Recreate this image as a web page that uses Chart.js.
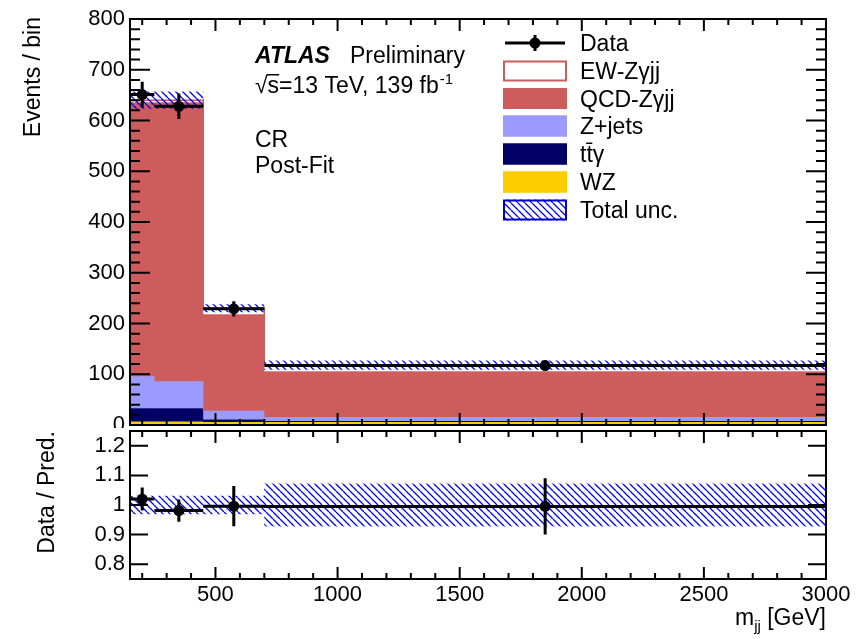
<!DOCTYPE html>
<html>
<head>
<meta charset="utf-8">
<script src="https://cdn.jsdelivr.net/npm/chart.js@4.4.1/dist/chart.umd.min.js"></script>
<style>
  body { margin: 0; background: #fff; }
  #wrap { position: relative; width: 856px; height: 639px; }
  #mainChart { position: absolute; left: 0; top: 0; }
  #ratioChart { position: absolute; left: 0; top: 428px; }
</style>
</head>
<body>
<div id="wrap">
  <canvas id="mainChart" width="856" height="428"></canvas>
  <canvas id="ratioChart" width="856" height="211"></canvas>
</div>
<script>
// bins in m_jj [GeV]
const binEdges = [150, 250, 450, 700, 3000];
const binCenters = [200, 350, 575, 1850];

// events per bin
const dataVals = [651, 628, 229, 117];
const dataErr = [25.5, 25, 15, 10.8];
const wzVals = [7, 7, 6, 6];
const ttgVals = [26, 26, 5, 2];
const zjetsVals = [63, 53, 17, 8];
const qcdVals = [540, 550, 190, 90];
const ewVals = [4, 4, 12, 12];
const uncVals = [17, 17, 8, 9];

// data / prediction
const ratioVals = [1.02, 0.981, 0.996, 0.995];
const ratioErr = [0.039, 0.038, 0.068, 0.095];
const ratioUnc = [0.031, 0.031, 0.031, 0.073];

// tick labels
const mainYTicks = [0, 100, 200, 300, 400, 500, 600, 700, 800];
const ratioYTicks = [0.8, 0.9, 1, 1.1, 1.2];
const xTicks = [500, 1000, 1500, 2000, 2500, 3000];

const colQCD = "#cd5c5c";
const colZjets = "#9b9bff";
const colTTG = "#000066";
const colWZ = "#ffcc00";
const FONT = "'Liberation Sans', Arial, sans-serif";

Chart.defaults.font.family = FONT;
Chart.defaults.color = "#000";
Chart.defaults.animation = false;

function stepPoints(vals) {
  const pts = [];
  for (let i = 0; i < vals.length; i++) pts.push({ x: binEdges[i], y: vals[i] });
  pts.push({ x: binEdges[binEdges.length - 1], y: vals[vals.length - 1] });
  return pts;
}
function addArr(a, b) { return a.map((v, i) => v + b[i]); }

function makeHatch() {
  const w = 7, h = 7;
  const c = document.createElement("canvas");
  c.width = w; c.height = h;
  const g = c.getContext("2d");
  g.strokeStyle = "#0000ff";
  g.lineWidth = 1.3;
  g.beginPath();
  for (let k = -1; k <= 1; k++) {
    g.moveTo(k * w, 0);
    g.lineTo(k * w + w, h);
  }
  g.stroke();
  return g.createPattern(c, "repeat");
}
const hatch = makeHatch();

const cum1 = wzVals.slice();
const cum2 = addArr(cum1, ttgVals);
const cum3 = addArr(cum2, zjetsVals);
const cum4 = addArr(cum3, qcdVals);
const cum5 = addArr(cum4, ewVals);
const uncHi = cum5.map((v, i) => v + uncVals[i]);
const uncLo = cum5.map((v, i) => v - uncVals[i]);

function minorTicks(lo, hi, step, majors) {
  const out = [];
  for (let v = lo; v <= hi + 1e-9; v += step) {
    const r = Math.round(v * 1000) / 1000;
    if (!majors.some(m => Math.abs(m - r) < 1e-6)) out.push(r);
  }
  return out;
}

// frame with inward ticks on all four sides
const frameTicks = {
  id: "frameTicks",
  afterDraw(chart, args, o) {
    const { ctx, chartArea: a } = chart;
    const x = chart.scales.x, y = chart.scales.y;
    ctx.save();
    ctx.strokeStyle = "#000";
    ctx.lineWidth = 2;
    ctx.beginPath();
    const xt = (v, len) => {
      const p = x.getPixelForValue(v);
      ctx.moveTo(p, a.bottom); ctx.lineTo(p, a.bottom - len);
      ctx.moveTo(p, a.top); ctx.lineTo(p, a.top + len);
    };
    const yt = (v, len) => {
      const p = y.getPixelForValue(v);
      ctx.moveTo(a.left, p); ctx.lineTo(a.left + len, p);
      ctx.moveTo(a.right, p); ctx.lineTo(a.right - len, p);
    };
    o.xMajor.forEach(v => xt(v, o.xLen[0]));
    o.xMinor.forEach(v => xt(v, o.xLen[1]));
    o.yMajor.forEach(v => yt(v, o.yLen[0]));
    o.yMinor.forEach(v => yt(v, o.yLen[1]));
    ctx.stroke();
    ctx.strokeRect(a.left, a.top, a.right - a.left, a.bottom - a.top);
    ctx.restore();
  }
};

// data error bars (x: bin width, y: stat error)
const errBars = {
  id: "errBars",
  afterDatasetsDraw(chart, args, o) {
    const ctx = chart.ctx;
    const x = chart.scales.x, y = chart.scales.y;
    const a = chart.chartArea;
    ctx.save();
    ctx.beginPath();
    ctx.rect(a.left, a.top, a.right - a.left, a.bottom - a.top);
    ctx.clip();
    ctx.strokeStyle = "#000";
    ctx.lineWidth = 3;
    ctx.beginPath();
    for (let i = 0; i < o.vals.length; i++) {
      const py = y.getPixelForValue(o.vals[i]);
      const px = x.getPixelForValue(binCenters[i]);
      ctx.moveTo(x.getPixelForValue(binEdges[i]), py);
      ctx.lineTo(x.getPixelForValue(binEdges[i + 1]), py);
      ctx.moveTo(px, y.getPixelForValue(o.vals[i] - o.errs[i]));
      ctx.lineTo(px, y.getPixelForValue(o.vals[i] + o.errs[i]));
    }
    ctx.stroke();
    ctx.fillStyle = "#000";
    for (let i = 0; i < o.vals.length; i++) {
      ctx.beginPath();
      ctx.arc(x.getPixelForValue(binCenters[i]), y.getPixelForValue(o.vals[i]), 5.5, 0, Math.PI * 2);
      ctx.fill();
    }
    ctx.restore();
  }
};

const mainText = {
  id: "mainText",
  afterDraw(chart) {
    const ctx = chart.ctx;
    ctx.save();
    ctx.fillStyle = "#000";
    ctx.textBaseline = "alphabetic";
    ctx.textAlign = "left";
    ctx.font = "italic bold 23px " + FONT;
    ctx.fillText("ATLAS", 255, 63);
    ctx.font = "23px " + FONT;
    ctx.fillText("Preliminary", 350, 63);
    const s2 = "\u221As=13 TeV, 139 fb";
    ctx.fillText(s2, 255, 93);
    const wRad = ctx.measureText("\u221A").width;
    const wS = ctx.measureText("s").width;
    const w2 = ctx.measureText(s2).width;
    ctx.fillRect(255 + wRad - 1, 93 - 19, wS + 1, 1.5);
    ctx.font = "15px " + FONT;
    ctx.fillText("-1", 255 + w2 + 1, 84);
    ctx.font = "23px " + FONT;
    ctx.fillText("CR", 255, 147);
    ctx.fillText("Post-Fit", 255, 173);

    // legend
    const bx = 503, bw = 64, bh = 21, tx = 580;
    const rows = [43, 71, 98.5, 126, 154, 182, 210];
    const labels = ["Data", "EW-Z\u03B3jj", "QCD-Z\u03B3jj", "Z+jets", "tt\u0304\u03B3", "WZ", "Total unc."];
    // data marker
    ctx.strokeStyle = "#000";
    ctx.lineWidth = 3;
    ctx.beginPath();
    ctx.moveTo(bx + 2, rows[0]); ctx.lineTo(bx + bw - 2, rows[0]);
    ctx.moveTo(bx + bw / 2, rows[0] - 8); ctx.lineTo(bx + bw / 2, rows[0] + 8);
    ctx.stroke();
    ctx.beginPath();
    ctx.arc(bx + bw / 2, rows[0], 5.5, 0, Math.PI * 2);
    ctx.fill();
    const box = (r, fill, stroke) => {
      const top = rows[r] - bh / 2;
      ctx.fillStyle = fill;
      ctx.fillRect(bx, top, bw, bh);
      ctx.strokeStyle = stroke;
      ctx.lineWidth = 2;
      ctx.strokeRect(bx + 1, top + 1, bw - 2, bh - 2);
    };
    box(1, "#fff", colQCD);
    box(2, colQCD, colQCD);
    box(3, colZjets, colZjets);
    box(4, colTTG, colTTG);
    box(5, colWZ, colWZ);
    box(6, hatch, "#0000cc");
    ctx.fillStyle = "#000";
    ctx.font = "23px " + FONT;
    labels.forEach((t, i) => ctx.fillText(t, tx, rows[i] + 8));

    // y title
    ctx.translate(40, 17);
    ctx.rotate(-Math.PI / 2);
    ctx.textAlign = "right";
    ctx.fillText("Events / bin", 0, 0);
    ctx.restore();
  }
};

const ratioText = {
  id: "ratioText",
  afterDraw(chart) {
    const ctx = chart.ctx;
    ctx.save();
    ctx.fillStyle = "#000";
    ctx.textBaseline = "alphabetic";
    ctx.textAlign = "left";
    ctx.font = "23px " + FONT;
    const wm = ctx.measureText("m").width;
    const wr = ctx.measureText(" [GeV]").width;
    ctx.font = "15px " + FONT;
    const wj = ctx.measureText("jj").width;
    const x0 = 826 - (wm + wj + wr);
    const base = 197;
    ctx.font = "23px " + FONT;
    ctx.fillText("m", x0, base);
    ctx.fillText(" [GeV]", x0 + wm + wj, base);
    ctx.font = "15px " + FONT;
    ctx.fillText("jj", x0 + wm, base + 6);

    ctx.font = "23px " + FONT;
    ctx.translate(54, 3);
    ctx.rotate(-Math.PI / 2);
    ctx.textAlign = "right";
    ctx.fillText("Data / Pred.", 0, 0);
    ctx.restore();
  }
};

function stackDs(label, vals, color, fill, order) {
  return {
    label: label, data: stepPoints(vals), stepped: true, fill: fill,
    backgroundColor: color, borderColor: color, borderWidth: 1,
    pointRadius: 0, order: order
  };
}

const mainConfig = {
  type: "line",
  data: {
    datasets: [
      stackDs("WZ", cum1, colWZ, "origin", 7),
      stackDs("ttgamma", cum2, colTTG, "-1", 6),
      stackDs("Z+jets", cum3, colZjets, "-1", 5),
      stackDs("QCD-Zgjj", cum4, colQCD, "-1", 4),
      { label: "EW-Zgjj", data: stepPoints(cum5), stepped: true, fill: "-1",
        backgroundColor: "#fff", borderColor: colQCD, borderWidth: 1.5, pointRadius: 0, order: 3 },
      { label: "uncHi", data: stepPoints(uncHi), stepped: true, fill: false,
        borderColor: "rgba(0,0,0,0)", borderWidth: 0.01, pointRadius: 0, order: 1 },
      { label: "uncLo", data: stepPoints(uncLo), stepped: true, fill: "-1",
        backgroundColor: hatch, borderColor: "rgba(0,0,0,0)", borderWidth: 0.01, pointRadius: 0, order: 1 },
    ],
  },
  options: {
    responsive: false,
    events: [],
    layout: { padding: { left: 0, right: 30, top: 19, bottom: 3 } },
    scales: {
      x: {
        type: "linear", min: 150, max: 3000,
        grid: { display: false, drawTicks: false }, border: { display: false },
        ticks: { display: false },
        afterFit(s) { s.height = 0; s.paddingLeft = 0; s.paddingRight = 0; },
      },
      y: {
        min: 0, max: 800,
        grid: { display: false, drawTicks: false }, border: { display: false },
        ticks: { font: { size: 22 }, padding: 5, color: "#000" },
        afterBuildTicks(s) { s.ticks = mainYTicks.map(v => ({ value: v })); },
        afterFit(s) { s.width = 130; s.paddingTop = 0; s.paddingBottom = 0; },
      },
    },
    plugins: {
      legend: { display: false },
      tooltip: { enabled: false },
      errBars: { vals: dataVals, errs: dataErr },
      frameTicks: {
        xMajor: xTicks, xMinor: minorTicks(200, 2900, 100, xTicks), xLen: [12, 6],
        yMajor: mainYTicks, yMinor: minorTicks(0, 800, 20, mainYTicks), yLen: [20, 10],
      },
    },
  },
  plugins: [errBars, frameTicks, mainText],
};

const ratioConfig = {
  type: "line",
  data: {
    datasets: [
      { label: "uncHi", data: stepPoints(ratioUnc.map(u => 1 + u)), stepped: true, fill: false,
        borderColor: "rgba(0,0,0,0)", borderWidth: 0.01, pointRadius: 0 },
      { label: "uncLo", data: stepPoints(ratioUnc.map(u => 1 - u)), stepped: true, fill: "-1",
        backgroundColor: hatch, borderColor: "rgba(0,0,0,0)", borderWidth: 0.01, pointRadius: 0 },
    ],
  },
  options: {
    responsive: false,
    events: [],
    layout: { padding: { left: 0, right: 30, top: 3, bottom: 0 } },
    scales: {
      x: {
        type: "linear", min: 150, max: 3000,
        grid: { display: false, drawTicks: false }, border: { display: false },
        ticks: { font: { size: 22 }, padding: 3, color: "#000", maxRotation: 0, autoSkip: false,
                 callback: v => String(v) },
        afterBuildTicks(s) { s.ticks = xTicks.map(v => ({ value: v })); },
        afterFit(s) { s.height = 60; s.paddingLeft = 0; s.paddingRight = 0; },
      },
      y: {
        min: 0.75, max: 1.25,
        grid: { display: false, drawTicks: false }, border: { display: false },
        ticks: { font: { size: 22 }, padding: 5, color: "#000", callback: v => String(v) },
        afterBuildTicks(s) { s.ticks = ratioYTicks.map(v => ({ value: v })); },
        afterFit(s) { s.width = 130; s.paddingTop = 0; s.paddingBottom = 0; },
      },
    },
    plugins: {
      legend: { display: false },
      tooltip: { enabled: false },
      errBars: { vals: ratioVals, errs: ratioErr },
      frameTicks: {
        xMajor: xTicks, xMinor: minorTicks(200, 2900, 100, xTicks), xLen: [12, 6],
        yMajor: ratioYTicks, yMinor: [], yLen: [18, 9],
      },
    },
  },
  plugins: [errBars, frameTicks, ratioText],
};

document.addEventListener("DOMContentLoaded", function () {
  new Chart(document.getElementById("mainChart"), mainConfig);
  new Chart(document.getElementById("ratioChart"), ratioConfig);
});
</script>
</body>
</html>
